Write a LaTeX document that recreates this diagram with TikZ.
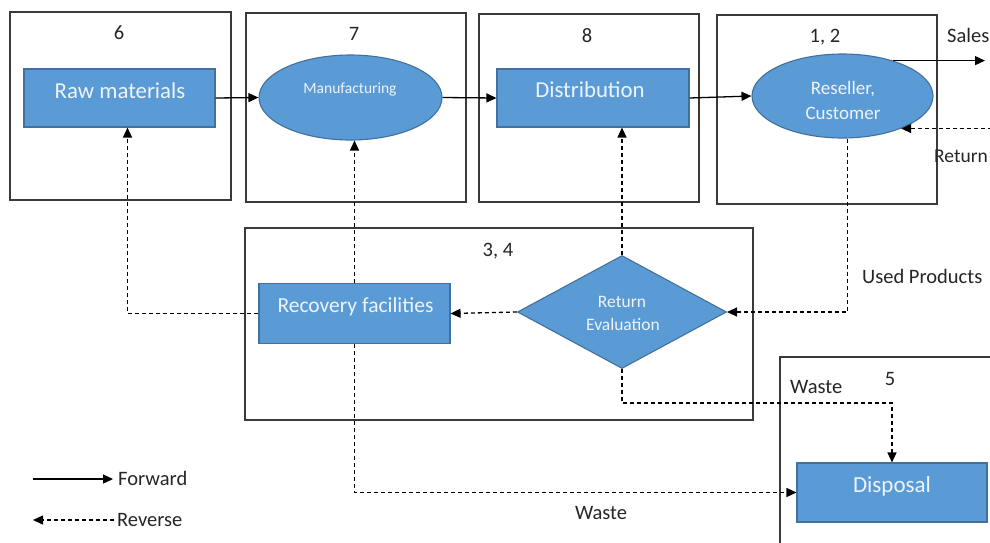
\documentclass[tikz,border=0pt]{standalone}
\usepackage{fontspec}
\setmainfont{Carlito}
\usetikzlibrary{shapes.geometric,arrows.meta}
\definecolor{bfill}{HTML}{5B9BD5}
\definecolor{bline}{HTML}{41719C}
\definecolor{btext}{HTML}{EEF3FA}
\definecolor{frame}{HTML}{3A3A3A}
\definecolor{ink}{HTML}{262626}
\begin{document}
\begin{tikzpicture}[x=1pt,y=-1pt,
  frm/.style={draw=frame,line width=1.6pt,rectangle,inner sep=0pt},
  brect/.style={draw=bline,fill=bfill,line width=1.1pt,rectangle,inner sep=0pt},
  bell/.style={draw=bline,fill=bfill,line width=1.1pt,ellipse,inner sep=0pt},
  bdia/.style={draw=bline,fill=bfill,line width=1.1pt,diamond,inner sep=0pt},
  wtxt/.style={anchor=base,text=btext,inner sep=0pt},
  lbl/.style={anchor=base,text=ink,inner sep=0pt,font=\fontsize{20.5}{24}\selectfont},
  fwd/.style={draw=black,line width=1.3pt,-{Triangle[length=10pt,width=9pt]}},
  rev/.style={draw=black,line width=1.3pt,dash pattern=on 4pt off 3pt,-{Triangle[length=10pt,width=9pt]}}
]
\clip (0,0) rectangle (990,542);
\fill[white] (0,0) rectangle (990,542);

% outer frames
\node[frm,minimum width=221pt,minimum height=188pt] (b6) at (120.5,106) {};
\node[frm,minimum width=220pt,minimum height=189pt] (b7) at (356,107.5) {};
\node[frm,minimum width=220pt,minimum height=188pt] (b8) at (589,108) {};
\node[frm,minimum width=220pt,minimum height=189pt] (b12) at (827,109.5) {};
\node[frm,minimum width=508pt,minimum height=192pt] (b34) at (499,324) {};
\node[frm,minimum width=220pt,minimum height=203pt] (b5) at (890,458.5) {};

% blue shapes
\node[brect,minimum width=191pt,minimum height=58pt] (raw) at (119.5,98) {};
\node[bell,minimum width=183pt,minimum height=85pt] (manu) at (350.5,97.5) {};
\node[brect,minimum width=192pt,minimum height=58pt] (dist) at (593,98) {};
\node[bell,minimum width=181pt,minimum height=84pt] (res) at (842.5,96) {};
\node[brect,minimum width=191pt,minimum height=60pt] (rec) at (354.5,313.5) {};
\node[bdia,minimum width=209pt,minimum height=113pt] (ret) at (622,312) {};
\node[brect,minimum width=190pt,minimum height=59pt] (disp) at (892,492.5) {};

% texts inside shapes
\node[wtxt,font=\fontsize{22.8}{27}\selectfont] (rawt) at (120,98) {Raw materials};
\node[wtxt,font=\fontsize{15.5}{18}\selectfont] (manut) at (350,93) {Manufacturing};
\node[wtxt,font=\fontsize{22.8}{27}\selectfont] (distt) at (590,97) {Distribution};
\node[wtxt,font=\fontsize{19}{22}\selectfont] (rest1) at (843,94) {Reseller,};
\node[wtxt,font=\fontsize{19}{22}\selectfont] (rest2) at (843,119) {Customer};
\node[wtxt,font=\fontsize{21.5}{25}\selectfont] (rect) at (355.5,312) {Recovery facilities};
\node[wtxt,font=\fontsize{17.5}{20}\selectfont] (rett1) at (622,307) {Return};
\node[wtxt,font=\fontsize{17.5}{20}\selectfont] (rett2) at (623,330) {Evaluation};
\node[wtxt,font=\fontsize{23}{27}\selectfont] (dispt) at (892,492) {Disposal};

% labels
\node[lbl] (l6) at (119,39) {6};
\node[lbl] (l7) at (354,40) {7};
\node[lbl] (l8) at (587,42) {8};
\node[lbl] (l12) at (825,42) {1, 2};
\node[lbl] (l34) at (498,256) {3, 4};
\node[lbl] (l5) at (890,385) {5};
\node[lbl,anchor=base west] (lsales) at (947,42) {Sales};
\node[lbl,anchor=base east,font=\fontsize{19.5}{23}\selectfont] (lreturn) at (988,162) {Return};
\node[lbl,anchor=base west] (lused) at (862,283) {Used Products};
\node[lbl,anchor=base west] (lwaste1) at (790,393) {Waste};
\node[lbl] (lwaste2) at (601,519) {Waste};

% forward connectors
\draw[fwd] (raw.east) -- (manu.west);
\draw[fwd] (manu.east) -- (dist.west);
\draw[fwd] (dist.east) -- (res.west);
\coordinate (salesend) at (985,61);
\draw[fwd] (res.35) -- (res.35 -| salesend);

% reverse connectors
\coordinate (retin) at (992,0);
\draw[rev] (retin |- res.-29) -- (res.-29);
\draw[rev] ([xshift=5pt]res.south) |- (ret.east);
\draw[rev] (ret.west) -- (rec.east);
\draw[rev] (ret.north) -- (ret.north |- dist.south);
\draw[rev] (rec.north) -- (rec.north |- manu.south);
\draw[rev] (rec.west) -| ([xshift=8pt]raw.south);
\draw[rev] (rec.south) |- (disp.west);
\draw[rev] (ret.south) -- ++(0,34) -| (disp.north);

% legend
\coordinate (f1) at (33,479);
\coordinate (f2) at (113,479);
\draw[fwd] (f1) -- (f2);
\node[lbl,anchor=base west] (lfwd) at (118,485.5) {Forward};
\coordinate (r1) at (114,520);
\coordinate (r2) at (33,520);
\draw[rev] (r1) -- (r2);
\node[lbl,anchor=base west] (lrev) at (117,526.5) {Reverse};
\end{tikzpicture}
\end{document}
